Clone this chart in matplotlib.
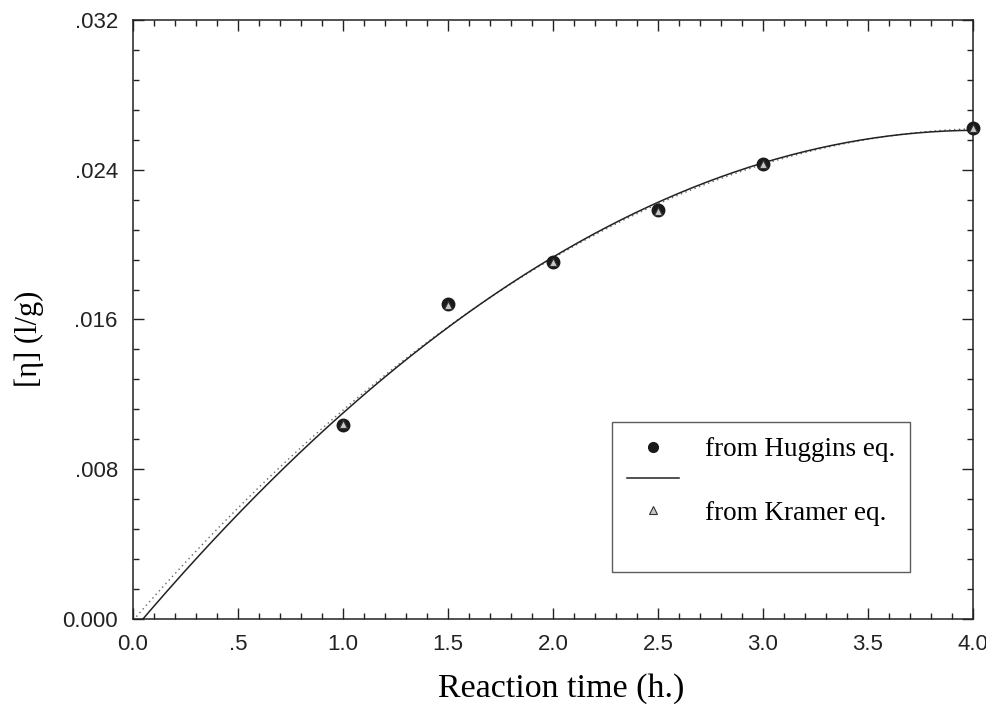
import numpy as np
import matplotlib.pyplot as plt
from matplotlib.lines import Line2D
from matplotlib.ticker import MultipleLocator

# reaction time (h) and intrinsic viscosity (l/g)
time_h = np.array([1.0, 1.5, 2.0, 2.5, 3.0, 4.0])
eta_huggins = np.array([0.01036, 0.01683, 0.01907, 0.02185, 0.02431, 0.02623])
eta_kramer = np.array([0.01040, 0.01680, 0.01905, 0.02180, 0.02433, 0.02625])

x_ticks = [0.0, 0.5, 1.0, 1.5, 2.0, 2.5, 3.0, 3.5, 4.0]
x_tick_labels = ['0.0', '.5', '1.0', '1.5', '2.0', '2.5', '3.0', '3.5', '4.0']
y_ticks = [0.0, 0.008, 0.016, 0.024, 0.032]
y_tick_labels = ['0.000', '.008', '.016', '.024', '.032']

fig = plt.figure(figsize=(9.87, 7.07), dpi=100)
ax = fig.add_axes([0.1348, 0.1245, 0.8510, 0.8472])

# second order regressions; the Kramer one is anchored at the origin
xx = np.linspace(0, 4, 300)
fit_h = np.polyval(np.polyfit(time_h, eta_huggins, 2), xx)
fit_k = np.polyval(np.polyfit(np.r_[0.0, time_h], np.r_[0.0, eta_kramer], 2), xx)

ax.plot(xx, fit_k, color='#666666', lw=1.0, ls=(0, (1, 2.5)))
ax.plot(xx, fit_h, color='#222222', lw=1.1)

ax.plot(time_h, eta_huggins, 'o', ms=9, color='#1a1a1a', clip_on=False, zorder=5)
ax.plot(time_h, eta_kramer, '^', ms=5.5, mfc='#c8c8c8', mec='#333333', mew=0.8,
        clip_on=False, zorder=6)

ax.set_xlim(0, 4)
ax.set_ylim(0, 0.032)
ax.set_xticks(x_ticks)
ax.set_xticklabels(x_tick_labels)
ax.set_yticks(y_ticks)
ax.set_yticklabels(y_tick_labels)
ax.xaxis.set_minor_locator(MultipleLocator(0.1))
ax.yaxis.set_minor_locator(MultipleLocator(0.0016))
ax.tick_params(which='both', direction='in', top=True, right=True, width=1, colors='#222222')
ax.tick_params(which='major', length=8)
ax.tick_params(which='minor', length=4)
ax.tick_params(labelsize=16, pad=11)
for lab in ax.get_xticklabels() + ax.get_yticklabels():
    lab.set_fontfamily('Liberation Sans')
    lab.set_color('#222222')
for s in ax.spines.values():
    s.set_linewidth(1.1)
    s.set_color('#222222')

ax.set_xlabel('Reaction time (h.)', fontfamily='Liberation Serif', fontsize=24.5)
ax.xaxis.set_label_coords(0.51, -0.09)
ax.set_ylabel('[\u03b7] (l/g)', fontfamily='Liberation Serif', fontsize=22)
ax.yaxis.set_label_coords(-0.106, 0.467)

handles = [
    Line2D([], [], ls='none', marker='o', ms=7, color='#1a1a1a'),
    Line2D([], [], color='#222222', lw=1.1),
    Line2D([], [], ls='none', marker='^', ms=5.5, mfc='#c8c8c8', mec='#333333', mew=0.8),
    Line2D([], [], color='white', lw=0),
]
leg = ax.legend(handles, ['from Huggins eq.', ' ', 'from Kramer eq.', ' '],
                loc='lower right', bbox_to_anchor=(0.925, 0.078),
                prop={'family': 'Liberation Serif', 'size': 19.5},
                frameon=True, fancybox=False, edgecolor='#333333',
                handlelength=1.93, handletextpad=0.96, labelspacing=0.25,
                borderpad=0.55, borderaxespad=0)
leg.get_frame().set_linewidth(1.0)

fig.savefig('out.png', dpi=100)
